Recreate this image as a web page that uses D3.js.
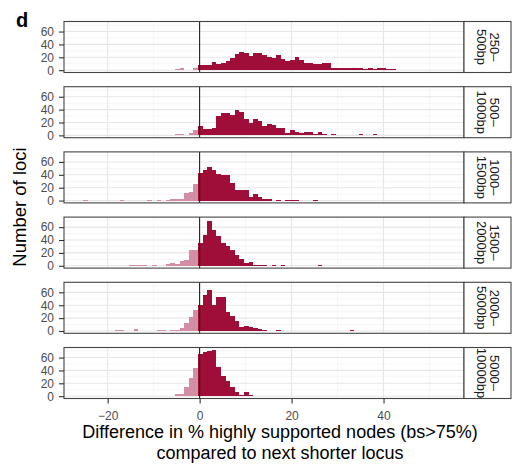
<!DOCTYPE html>
<html>
<head>
<meta charset="utf-8">
<script src="https://cdn.jsdelivr.net/npm/d3@7"></script>
<style>
  body { margin: 0; background: #fff; }
  svg { display: block; }
  text { font-family: "Liberation Sans", Arial, Helvetica, sans-serif; }
</style>
</head>
<body>
<svg id="chart" width="517" height="464"></svg>
<script>
// Locus-length classes, one facet each (top to bottom)
const panelLabels = [
  ["250–", "500bp"],
  ["500–", "1000bp"],
  ["1000–", "1500bp"],
  ["1500–", "2000bp"],
  ["2000–", "5000bp"],
  ["5000–", "10000bp"]
];

// Histogram bins: bin k covers [binOrigin + k, binOrigin + k + 1)
const binOrigin = -0.36;
const binWidth = 1;

// [bin index, number of loci]
const counts250 = [[-10,1],[-5,2],[-4,3],[-1,4],[0,8],[1,8],[2,8],[3,12],[4,9],[5,11],[6,15],[7,19],[8,25],[9,29],[10,27],[11,22],[12,27],[13,27],[14,23],[15,21],[16,19],[17,23],[18,17],[19,14],[20,16],[21,20],[22,16],[23,11],[24,11],[25,10],[26,10],[27,11],[28,11],[29,3],[30,3],[31,3],[32,3],[33,3],[34,3],[35,4],[36,2],[37,3],[38,2],[39,3],[40,3],[41,2],[42,2],[52,1]];
const counts500 = [[-5,2],[-4,2],[-2,4],[-1,8],[0,14],[1,10],[2,10],[3,11],[4,30],[5,35],[6,35],[7,31],[8,40],[9,36],[10,25],[11,19],[12,25],[13,22],[14,14],[15,18],[16,16],[17,11],[18,11],[19,3],[20,9],[21,5],[22,3],[23,5],[24,5],[25,2],[26,5],[27,2],[29,2],[30,1],[32,1],[33,1],[34,1],[35,2],[37,1],[38,2],[53,1]];
const counts1000 = [[-25,1],[-17,1],[-11,1],[-9,1],[-7,1],[-6,2],[-5,2],[-4,3],[-3,12],[-2,14],[-1,25],[0,43],[1,48],[2,52],[3,48],[4,42],[5,40],[6,40],[7,27],[8,16],[9,16],[10,16],[11,6],[12,10],[13,6],[14,2],[15,2],[17,1],[19,1],[20,1],[21,1],[25,1]];
const counts1500 = [[-15,1],[-14,1],[-13,1],[-12,1],[-10,1],[-7,2],[-6,5],[-5,2],[-4,8],[-3,9],[-2,24],[-1,24],[0,35],[1,48],[2,70],[3,56],[4,47],[5,36],[6,31],[7,24],[8,17],[9,10],[10,5],[11,6],[12,1],[13,1],[14,1],[16,1],[18,1],[26,1]];
const counts2000 = [[-18,1],[-17,1],[-14,3],[-9,1],[-8,1],[-6,1],[-5,2],[-4,4],[-3,12],[-2,21],[-1,33],[0,40],[1,56],[2,63],[3,40],[4,53],[5,53],[6,30],[7,24],[8,15],[9,6],[10,7],[11,6],[12,4],[13,3],[14,1],[17,1],[33,1]];
const counts5000 = [[-25,1],[-15,1],[-10,1],[-6,1],[-5,3],[-4,3],[-3,15],[-2,29],[-1,43],[0,66],[1,68],[2,70],[3,72],[4,46],[5,31],[6,23],[7,15],[8,7],[9,2],[10,6],[11,2],[13,1],[17,1],[23,1]];

const panelCounts = [counts250, counts500, counts1000, counts1500, counts2000, counts5000];

const xMajor = [-20, 0, 20, 40];
const xMinor = [-10, 10, 30, 50];
const yMajor = [0, 20, 40, 60];
const yMinor = [10, 30, 50, 70];

const xTitle = ["Difference in % highly supported nodes (bs>75%)", "compared to next shorter locus"];
const yTitle = "Number of loci";
const tag = "d";

// ---- layout ----
const plotLeft = 64, plotRight = 464, stripWidth = 47;
const panelTop0 = 21.5, panelStep = 65.2, panelHeight = 51;
const darkFill = "#9e0e39", lightFill = "#d48ea3";

const svg = d3.select("#chart");
svg.append("rect").attr("width", 517).attr("height", 464).attr("fill", "#fff");

const x = d3.scaleLinear().domain([-29.5, 57.5]).range([plotLeft, plotRight]);
const y = d3.scaleLinear().domain([-3.6, 75.6]).range([panelHeight, 0]);

panelCounts.forEach((bins, i) => {
  const g = svg.append("g").attr("transform", `translate(0,${panelTop0 + i * panelStep})`);

  // grid
  const grid = g.append("g");
  grid.selectAll(".vmin").data(xMinor).join("line")
    .attr("x1", d => x(d)).attr("x2", d => x(d))
    .attr("y1", 0).attr("y2", panelHeight)
    .attr("stroke", "#f2f2f2").attr("stroke-width", 0.7);
  grid.selectAll(".hmin").data(yMinor).join("line")
    .attr("x1", plotLeft).attr("x2", plotRight)
    .attr("y1", d => y(d)).attr("y2", d => y(d))
    .attr("stroke", "#f2f2f2").attr("stroke-width", 0.7);
  grid.selectAll(".vmaj").data(xMajor).join("line")
    .attr("x1", d => x(d)).attr("x2", d => x(d))
    .attr("y1", 0).attr("y2", panelHeight)
    .attr("stroke", "#e6e6e6").attr("stroke-width", 1.1);
  grid.selectAll(".hmaj").data(yMajor).join("line")
    .attr("x1", plotLeft).attr("x2", plotRight)
    .attr("y1", d => y(d)).attr("y2", d => y(d))
    .attr("stroke", "#e6e6e6").attr("stroke-width", 1.1);

  // histogram bars
  g.append("g").selectAll("rect").data(bins).join("rect")
    .attr("x", d => x(binOrigin + d[0] * binWidth))
    .attr("width", d => x(binOrigin + (d[0] + 1) * binWidth) - x(binOrigin + d[0] * binWidth))
    .attr("y", d => y(d[1]))
    .attr("height", d => y(0) - y(d[1]))
    .attr("fill", d => (binOrigin + (d[0] + 0.5) * binWidth) < 0 ? lightFill : darkFill)
    .attr("shape-rendering", "crispEdges");

  // zero reference line
  g.append("line")
    .attr("x1", x(0)).attr("x2", x(0))
    .attr("y1", 0).attr("y2", panelHeight)
    .attr("stroke", "#111").attr("stroke-width", 1);

  // panel border
  g.append("rect")
    .attr("x", plotLeft).attr("y", 0)
    .attr("width", plotRight - plotLeft).attr("height", panelHeight)
    .attr("fill", "none").attr("stroke", "#444").attr("stroke-width", 1.1);

  // strip on the right
  g.append("rect")
    .attr("x", plotRight).attr("y", 0)
    .attr("width", stripWidth).attr("height", panelHeight)
    .attr("fill", "#fff").attr("stroke", "#444").attr("stroke-width", 1.1);
  const st = g.append("text")
    .attr("transform", `translate(${plotRight + stripWidth / 2},${panelHeight / 2}) rotate(90)`)
    .attr("text-anchor", "middle")
    .attr("font-size", 13).attr("fill", "#1a1a1a");
  panelLabels[i].forEach((line, j) => {
    st.append("tspan").attr("x", 0).attr("y", j === 0 ? -2 : 10.5).text(line);
  });

  // y axis
  const ya = g.append("g").attr("transform", `translate(${plotLeft},0)`)
    .call(d3.axisLeft(y).tickValues(yMajor).tickSize(5).tickPadding(5));
  ya.select(".domain").remove();
  ya.selectAll(".tick line").attr("stroke", "#333").attr("stroke-width", 1.1);
  ya.selectAll(".tick text").attr("fill", "#4d4d4d").attr("font-size", 12)
    .attr("font-family", "'Liberation Sans', Arial, sans-serif");

  // x axis on the bottom facet only
  if (i === panelCounts.length - 1) {
    const xa = g.append("g").attr("transform", `translate(0,${panelHeight})`)
      .call(d3.axisBottom(x).tickValues(xMajor).tickSize(5).tickPadding(8)
        .tickFormat(d => d < 0 ? "\u2212" + Math.abs(d) : String(d)));
    xa.select(".domain").remove();
    xa.selectAll(".tick line").attr("stroke", "#333").attr("stroke-width", 1.1);
    xa.selectAll(".tick text").attr("fill", "#4d4d4d").attr("font-size", 12)
      .attr("font-family", "'Liberation Sans', Arial, sans-serif");
  }
});

// x axis title: two lines in one text block
const xTitleMid = 280;
const xt = svg.append("text").attr("text-anchor", "middle")
  .attr("font-size", 18).attr("fill", "#000");
xTitle.forEach((line, j) => {
  xt.append("tspan").attr("x", xTitleMid).attr("y", 437.5 + j * 21).text(line);
});

const plotMidY = panelTop0 + ((panelCounts.length - 1) * panelStep + panelHeight) / 2;
svg.append("text")
  .attr("transform", `translate(26,${plotMidY - 3}) rotate(-90)`)
  .attr("text-anchor", "middle").attr("font-size", 18.5).attr("fill", "#000").text(yTitle);

svg.append("text").attr("x", 16).attr("y", 27)
  .attr("font-size", 20).attr("font-weight", "bold").attr("fill", "#000").text(tag);
</script>
</body>
</html>
